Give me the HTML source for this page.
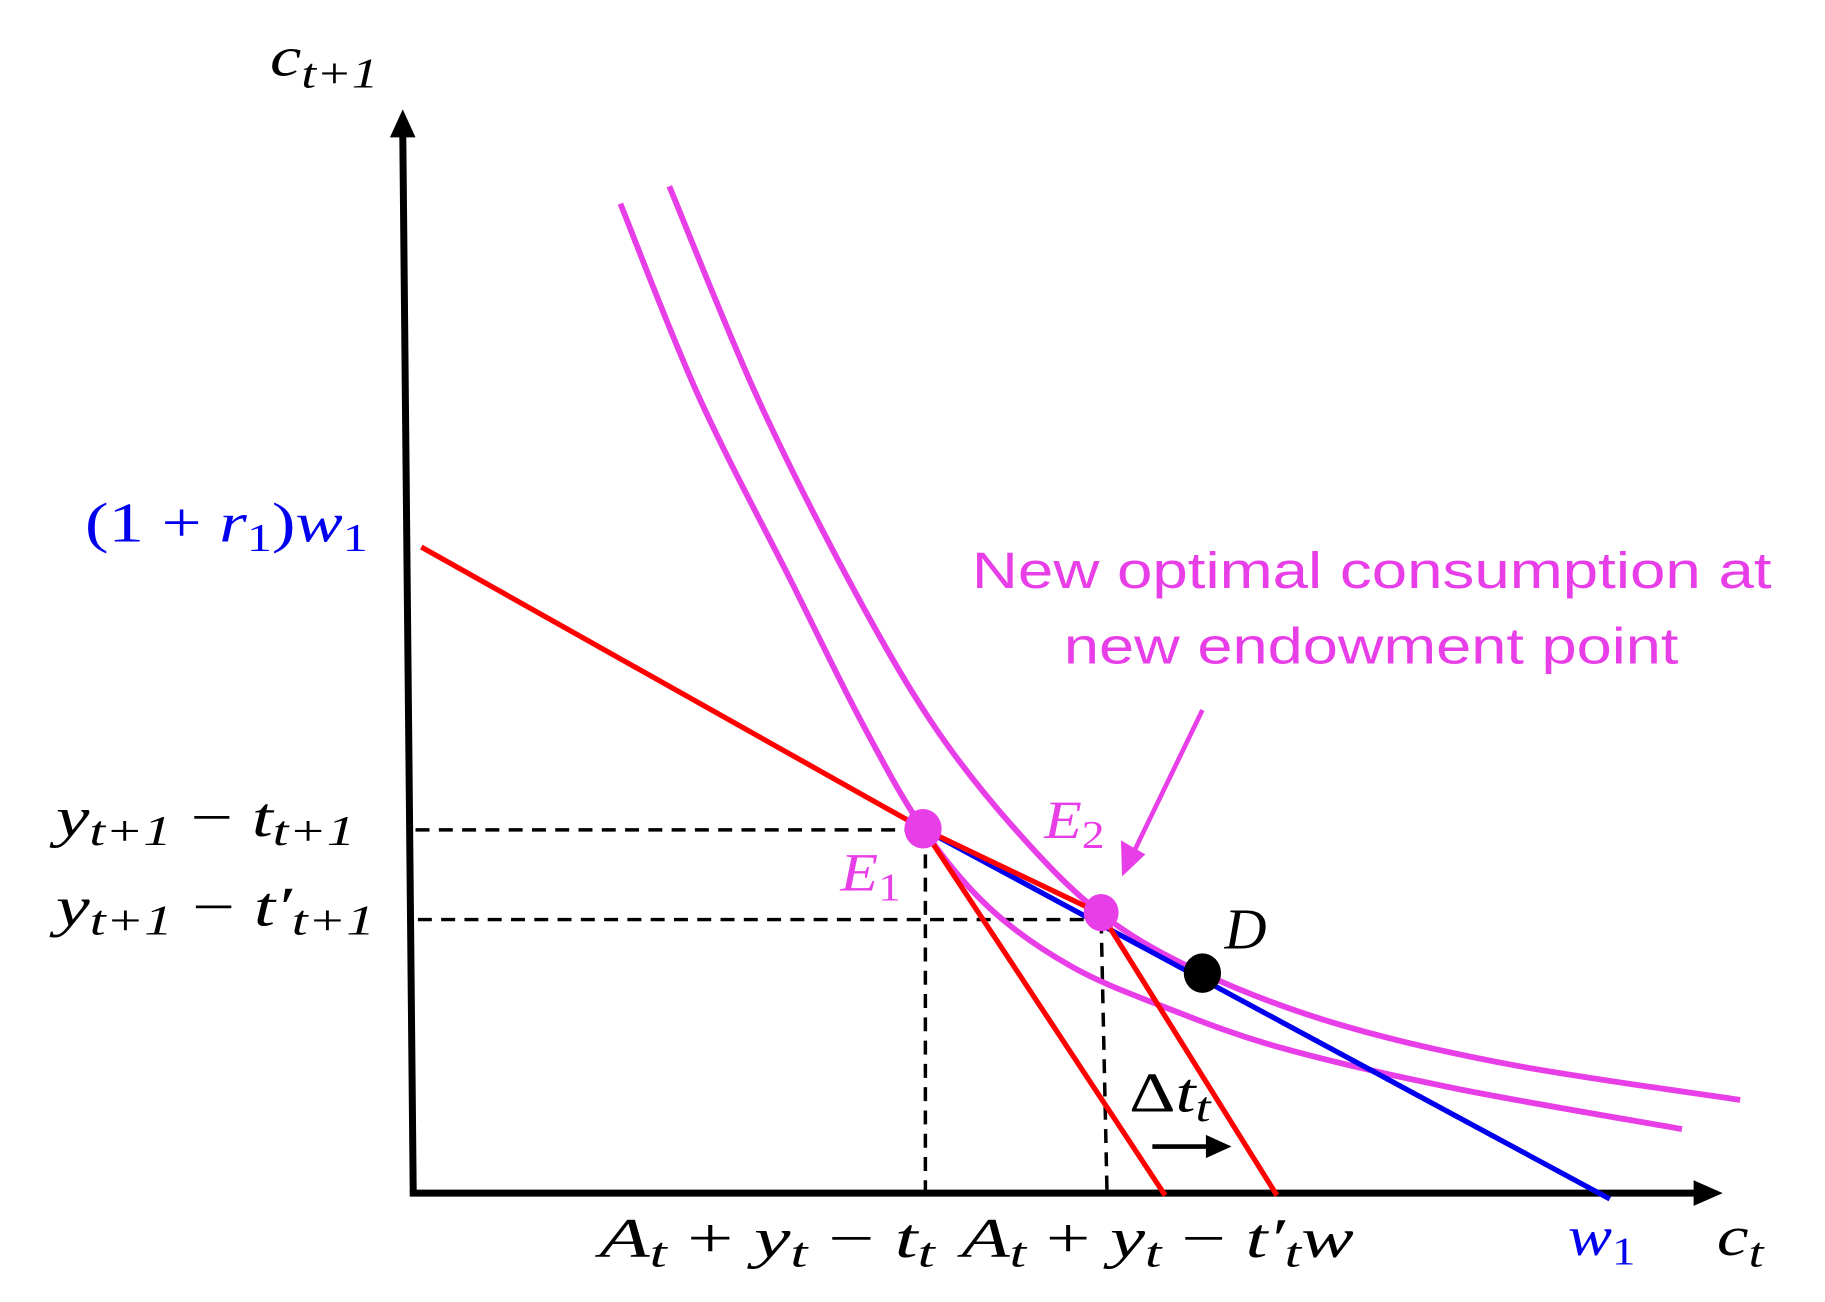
<!DOCTYPE html>
<html><head><meta charset="utf-8">
<style>
html,body{margin:0;padding:0;background:#fff;}
svg{display:block;}
.m{font-family:"Liberation Serif","DejaVu Serif",serif;font-style:italic;}
.n{font-family:"Liberation Serif","DejaVu Serif",serif;font-style:normal;}
.s{font-family:"Liberation Sans","DejaVu Sans",sans-serif;}
</style></head>
<body>
<svg id="chart" width="1825" height="1302" viewBox="0 0 1825 1302" xmlns="http://www.w3.org/2000/svg">
<g id="root" transform="scale(1.164)">
  <line x1="355" y1="1025" x2="346" y2="112" stroke="#000" stroke-width="6"/>
  <polygon points="346,94 335,118 357,118" fill="#000"/>
  <line x1="352" y1="1025" x2="1458" y2="1025" stroke="#000" stroke-width="6"/>
  <polygon points="1480,1025 1455,1014 1455,1036" fill="#000"/>

  <g stroke="#000" stroke-width="3" stroke-dasharray="12,8" fill="none">
    <line x1="357" y1="713" x2="793" y2="713"/>
    <line x1="359" y1="790" x2="946" y2="790"/>
    <line x1="795" y1="714" x2="795" y2="1023"/>
    <line x1="946" y1="790" x2="951" y2="1023"/>
  </g>

  <g id="curves"></g>

  <polyline points="793,712 1383,1030" stroke="#0000ee" stroke-width="4.5" fill="none"/>
  <polyline points="362,470 793,712 1001,1027" stroke="#ff0000" stroke-width="4.5" fill="none"/>
  <polyline points="793,712 946,785 1097,1027" stroke="#ff0000" stroke-width="4.5" fill="none"/>

  <ellipse cx="793" cy="712" rx="16" ry="17" fill="#e83ee8"/>
  <ellipse cx="946" cy="784" rx="15" ry="16" fill="#e83ee8"/>
  <ellipse cx="1033" cy="836" rx="16" ry="17" fill="#000"/>

  <line x1="1033" y1="610" x2="975" y2="730" stroke="#e83ee8" stroke-width="4"/>
  <polygon points="964,753 963,722 984,734" fill="#e83ee8"/>
  <line x1="990" y1="985" x2="1040" y2="985" stroke="#000" stroke-width="4"/>
  <polygon points="1058,985 1036,975 1036,995" fill="#000"/>

  <text class="m" x="232" y="65" font-size="48" textLength="93" lengthAdjust="spacingAndGlyphs">c<tspan font-size="36" dy="10">t+1</tspan></text>
  <text class="m" x="1475" y="1078" font-size="48" textLength="40" lengthAdjust="spacingAndGlyphs">c<tspan font-size="36" dy="10">t</tspan></text>
  <text class="n" x="73" y="465" font-size="48" fill="#0000ee" textLength="243" lengthAdjust="spacingAndGlyphs">(1 + <tspan class="m">r</tspan><tspan font-size="34" dy="8">1</tspan><tspan dy="-8">)</tspan><tspan class="m">w</tspan><tspan font-size="34" dy="8">1</tspan></text>
  <text class="m" x="48" y="718" font-size="48" textLength="257" lengthAdjust="spacingAndGlyphs">y<tspan font-size="36" dy="8">t+1</tspan><tspan dy="-8" class="n"> − </tspan>t<tspan font-size="36" dy="8">t+1</tspan></text>
  <text class="m" x="48" y="795" font-size="48" textLength="274" lengthAdjust="spacingAndGlyphs">y<tspan font-size="36" dy="8">t+1</tspan><tspan dy="-8" class="n"> − </tspan>t′<tspan font-size="36" dy="8">t+1</tspan></text>
  <text class="m" x="515" y="1080" font-size="48" textLength="288" lengthAdjust="spacingAndGlyphs">A<tspan font-size="36" dy="8">t</tspan><tspan dy="-8" class="n"> +  </tspan>y<tspan font-size="36" dy="8">t</tspan><tspan dy="-8" class="n"> − </tspan>t<tspan font-size="36" dy="8">t</tspan></text>
  <text class="m" x="826" y="1080" font-size="48" textLength="337" lengthAdjust="spacingAndGlyphs">A<tspan font-size="36" dy="8">t</tspan><tspan dy="-8" class="n"> + </tspan>y<tspan font-size="36" dy="8">t</tspan><tspan dy="-8" class="n"> − </tspan>t′<tspan font-size="36" dy="8">t</tspan><tspan dy="-8">w</tspan></text>
  <text class="m" x="1347" y="1078" font-size="48" fill="#0000ee" textLength="58" lengthAdjust="spacingAndGlyphs">w<tspan class="n" font-size="34" dy="8">1</tspan></text>
  <text class="m" x="722" y="765" font-size="46" fill="#e83ee8" textLength="52" lengthAdjust="spacingAndGlyphs">E<tspan class="n" font-size="34" dy="8">1</tspan></text>
  <text class="m" x="897" y="720" font-size="46" fill="#e83ee8" textLength="52" lengthAdjust="spacingAndGlyphs">E<tspan class="n" font-size="34" dy="8">2</tspan></text>
  <text class="m" x="1052" y="815" font-size="50">D</text>
  <text class="m" x="970" y="955" font-size="48" textLength="70" lengthAdjust="spacingAndGlyphs"><tspan class="n">Δ</tspan>t<tspan font-size="36" dy="8">t</tspan></text>
  <text class="s" x="835" y="505" font-size="44" fill="#e83ee8" textLength="687" lengthAdjust="spacingAndGlyphs">New optimal consumption at</text>
  <text class="s" x="914" y="570" font-size="44" fill="#e83ee8" textLength="528" lengthAdjust="spacingAndGlyphs">new endowment point</text>
</g>
</svg>
<script>
// indifference curve points (c_t, c_t+1) in diagram coordinates
const ic1X = [533, 600, 680, 740, 793, 850, 920, 1000, 1100, 1250, 1445];
const ic1Y = [175, 340, 500, 620, 712, 780, 830, 865, 900, 935, 970];
const ic2X = [575, 650, 730, 800, 870, 946, 1033, 1150, 1300, 1495];
const ic2Y = [160, 340, 500, 620, 710, 785, 836, 880, 915, 945];

function splinePath(xs, ys) {
  let d = 'M' + xs[0] + ',' + ys[0];
  for (let i = 0; i < xs.length - 1; i++) {
    const x0 = xs[Math.max(i - 1, 0)], y0 = ys[Math.max(i - 1, 0)];
    const x1 = xs[i], y1 = ys[i], x2 = xs[i + 1], y2 = ys[i + 1];
    const x3 = xs[Math.min(i + 2, xs.length - 1)], y3 = ys[Math.min(i + 2, ys.length - 1)];
    const c1x = x1 + (x2 - x0) / 6, c1y = y1 + (y2 - y0) / 6;
    const c2x = x2 - (x3 - x1) / 6, c2y = y2 - (y3 - y1) / 6;
    d += ' C' + c1x + ',' + c1y + ' ' + c2x + ',' + c2y + ' ' + x2 + ',' + y2;
  }
  return d;
}
const g = document.getElementById('curves');
const ns = 'http://www.w3.org/2000/svg';
const p1 = document.createElementNS(ns, 'path');
p1.setAttribute('d', splinePath(ic1X, ic1Y));
p1.setAttribute('stroke', '#e83ee8');
p1.setAttribute('stroke-width', '5');
p1.setAttribute('fill', 'none');


g.appendChild(p1);
const p2 = document.createElementNS(ns, 'path');
p2.setAttribute('d', splinePath(ic2X, ic2Y));
p2.setAttribute('stroke', '#e83ee8');
p2.setAttribute('stroke-width', '5');
p2.setAttribute('fill', 'none');


g.appendChild(p2);
</script>
</body></html>
